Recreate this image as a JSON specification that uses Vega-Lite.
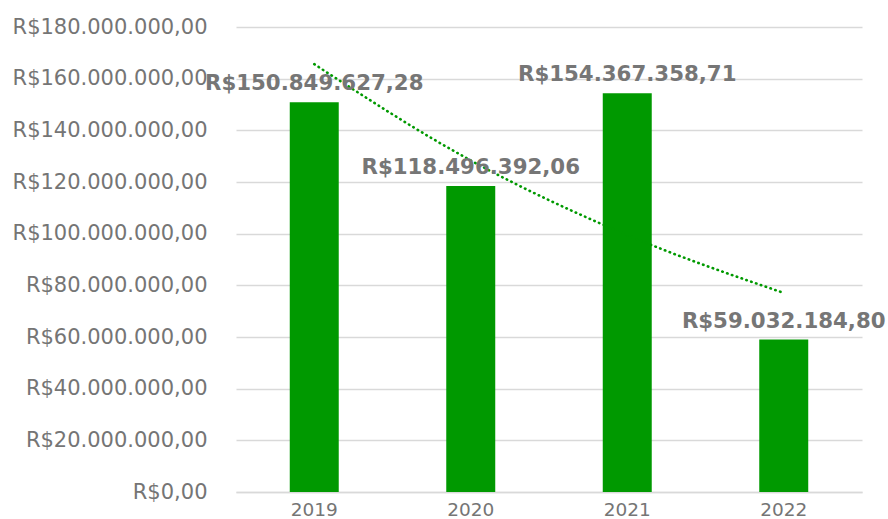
{
  "$schema": "https://vega.github.io/schema/vega-lite/v6.json",
  "autosize": {"type": "none"},
  "width": 626,
  "height": 465,
  "padding": {"left": 236, "top": 27, "right": 26, "bottom": 27},
  "background": "#ffffff",
  "config": {
    "locale": {"number": {"decimal": ",", "thousands": ".", "grouping": [3], "currency": ["R$", ""]}},
    "view": {"stroke": null},
    "font": "DejaVu Sans"
  },
  "data": {
    "values": [
      {"ano": "2019", "valor": 150849627.28, "tendencia": 165610000},
      {"ano": "2020", "valor": 118496392.06, "tendencia": 128340000},
      {"ano": "2021", "valor": 154367358.71, "tendencia": 99460000},
      {"ano": "2022", "valor": 59032184.80, "tendencia": 77070000}
    ]
  },
  "encoding": {
    "x": {
      "field": "ano", "type": "ordinal",
      "scale": {"paddingInner": 0.687, "paddingOuter": 0.3435},
      "axis": {
        "title": null, "labelAngle": 0, "ticks": false, "domain": true,
        "domainColor": "#d9d9d9", "domainWidth": 1.5,
        "labelFont": "DejaVu Sans", "labelFontSize": 18.5, "labelColor": "#757575",
        "labelPadding": 8
      }
    }
  },
  "layer": [
    {
      "mark": {"type": "bar", "color": "#009900"},
      "encoding": {
        "y": {
          "field": "valor", "type": "quantitative",
          "scale": {"domain": [0, 180000000], "nice": false},
          "axis": {
            "title": null, "format": "$,.2f",
            "values": [0, 20000000, 40000000, 60000000, 80000000, 100000000, 120000000, 140000000, 160000000, 180000000],
            "ticks": false, "domain": false, "labelOverlap": false, "labelLimit": 400,
            "grid": true, "gridColor": "#d9d9d9", "gridWidth": 1.5,
            "labelFont": "DejaVu Sans", "labelFontSize": 21, "labelColor": "#757575",
            "labelPadding": 29
          }
        }
      }
    },
    {
      "mark": {"type": "line", "color": "#009900", "strokeWidth": 2.6, "strokeDash": [0.5, 4.6], "strokeCap": "round", "interpolate": "monotone"},
      "encoding": {
        "y": {"field": "tendencia", "type": "quantitative"}
      }
    },
    {
      "mark": {"type": "text", "baseline": "alphabetic", "dy": -12, "fontWeight": "bold", "fontSize": 21.3, "color": "#767676", "font": "DejaVu Sans"},
      "encoding": {
        "y": {"field": "valor", "type": "quantitative"},
        "text": {"field": "valor", "type": "quantitative", "format": "$,.2f"}
      }
    }
  ]
}
